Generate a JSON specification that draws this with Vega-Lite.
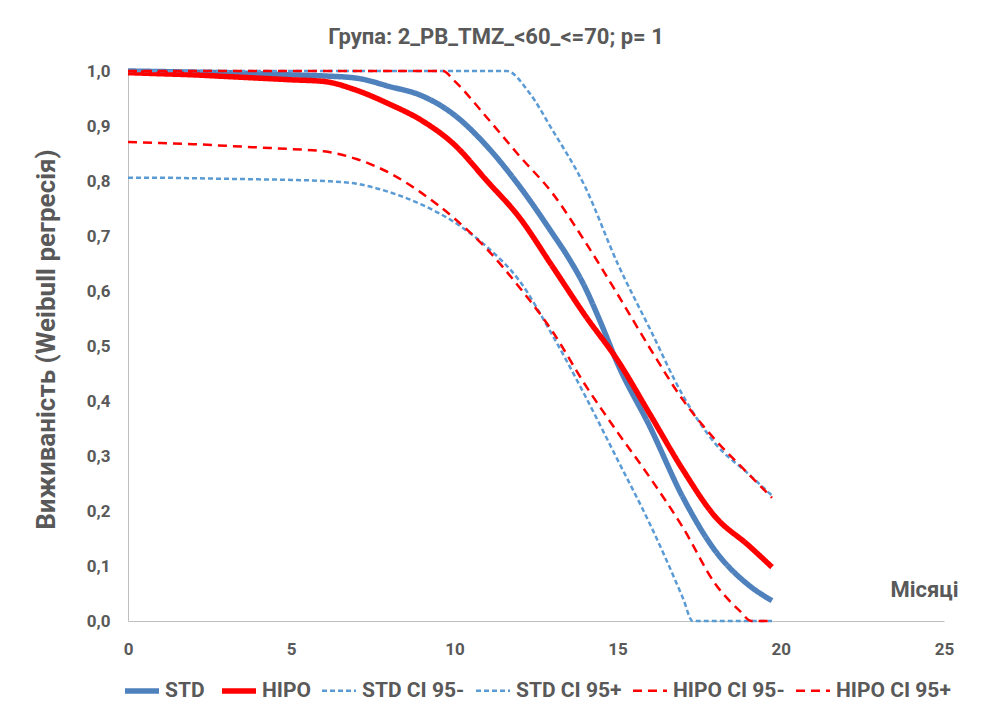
{
  "$schema": "https://vega.github.io/schema/vega-lite/v6.json",
  "autosize": "none",
  "padding": {"left": 128, "top": 71, "right": 51, "bottom": 97},
  "width": 816,
  "height": 550,
  "background": "white",
  "config": {
    "view": {"stroke": null},
    "font": "Roboto, sans-serif"
  },
  "title": {
    "text": "Група: 2_PB_TMZ_<60_<=70; p= 1",
    "fontSize": 22,
    "fontWeight": "bold",
    "color": "#595959",
    "anchor": "middle",
    "dx": -40,
    "offset": 11
  },
  "data": {
    "values": [
      {"series": "STD", "month": 0, "value": 1.0},
      {"series": "STD", "month": 1, "value": 0.999},
      {"series": "STD", "month": 2, "value": 0.998},
      {"series": "STD", "month": 3, "value": 0.997},
      {"series": "STD", "month": 4, "value": 0.995},
      {"series": "STD", "month": 5, "value": 0.993},
      {"series": "STD", "month": 6, "value": 0.991},
      {"series": "STD", "month": 7, "value": 0.987},
      {"series": "STD", "month": 8, "value": 0.972},
      {"series": "STD", "month": 9, "value": 0.955},
      {"series": "STD", "month": 10, "value": 0.92},
      {"series": "STD", "month": 11, "value": 0.863},
      {"series": "STD", "month": 12, "value": 0.79},
      {"series": "STD", "month": 13, "value": 0.705},
      {"series": "STD", "month": 13.5, "value": 0.66},
      {"series": "STD", "month": 14, "value": 0.607},
      {"series": "STD", "month": 14.5, "value": 0.54},
      {"series": "STD", "month": 15, "value": 0.468},
      {"series": "STD", "month": 16, "value": 0.352},
      {"series": "STD", "month": 17, "value": 0.225},
      {"series": "STD", "month": 18, "value": 0.127},
      {"series": "STD", "month": 19, "value": 0.066},
      {"series": "STD", "month": 19.73, "value": 0.037},

      {"series": "HIPO", "month": 0, "value": 0.997},
      {"series": "HIPO", "month": 1, "value": 0.995},
      {"series": "HIPO", "month": 2, "value": 0.993},
      {"series": "HIPO", "month": 3, "value": 0.99},
      {"series": "HIPO", "month": 4, "value": 0.987},
      {"series": "HIPO", "month": 5, "value": 0.984},
      {"series": "HIPO", "month": 6, "value": 0.981},
      {"series": "HIPO", "month": 7, "value": 0.965},
      {"series": "HIPO", "month": 8, "value": 0.94},
      {"series": "HIPO", "month": 9, "value": 0.91},
      {"series": "HIPO", "month": 10, "value": 0.866},
      {"series": "HIPO", "month": 11, "value": 0.80},
      {"series": "HIPO", "month": 12, "value": 0.733},
      {"series": "HIPO", "month": 13, "value": 0.645},
      {"series": "HIPO", "month": 14, "value": 0.556},
      {"series": "HIPO", "month": 15, "value": 0.474},
      {"series": "HIPO", "month": 16, "value": 0.375},
      {"series": "HIPO", "month": 17, "value": 0.275},
      {"series": "HIPO", "month": 18, "value": 0.189},
      {"series": "HIPO", "month": 19, "value": 0.138},
      {"series": "HIPO", "month": 19.73, "value": 0.098},

      {"series": "STD CI 95-", "month": 0, "value": 0.806},
      {"series": "STD CI 95-", "month": 1, "value": 0.806},
      {"series": "STD CI 95-", "month": 2, "value": 0.805},
      {"series": "STD CI 95-", "month": 3, "value": 0.804},
      {"series": "STD CI 95-", "month": 4, "value": 0.803},
      {"series": "STD CI 95-", "month": 5, "value": 0.802},
      {"series": "STD CI 95-", "month": 6, "value": 0.80},
      {"series": "STD CI 95-", "month": 7, "value": 0.795},
      {"series": "STD CI 95-", "month": 8, "value": 0.78},
      {"series": "STD CI 95-", "month": 9, "value": 0.757},
      {"series": "STD CI 95-", "month": 10, "value": 0.725},
      {"series": "STD CI 95-", "month": 11, "value": 0.68},
      {"series": "STD CI 95-", "month": 12, "value": 0.618},
      {"series": "STD CI 95-", "month": 13, "value": 0.52},
      {"series": "STD CI 95-", "month": 14, "value": 0.41},
      {"series": "STD CI 95-", "month": 15, "value": 0.293},
      {"series": "STD CI 95-", "month": 16, "value": 0.175},
      {"series": "STD CI 95-", "month": 17, "value": 0.042},
      {"series": "STD CI 95-", "month": 17.3, "value": 0.0},
      {"series": "STD CI 95-", "month": 18, "value": 0.0},
      {"series": "STD CI 95-", "month": 19, "value": 0.0},
      {"series": "STD CI 95-", "month": 19.73, "value": 0.0},

      {"series": "STD CI 95+", "month": 0, "value": 1.0},
      {"series": "STD CI 95+", "month": 2, "value": 1.0},
      {"series": "STD CI 95+", "month": 4, "value": 1.0},
      {"series": "STD CI 95+", "month": 6, "value": 1.0},
      {"series": "STD CI 95+", "month": 8, "value": 1.0},
      {"series": "STD CI 95+", "month": 10, "value": 1.0},
      {"series": "STD CI 95+", "month": 11.6, "value": 1.0},
      {"series": "STD CI 95+", "month": 12.3, "value": 0.96},
      {"series": "STD CI 95+", "month": 13, "value": 0.893},
      {"series": "STD CI 95+", "month": 14, "value": 0.79},
      {"series": "STD CI 95+", "month": 15, "value": 0.65},
      {"series": "STD CI 95+", "month": 16, "value": 0.53},
      {"series": "STD CI 95+", "month": 17, "value": 0.41},
      {"series": "STD CI 95+", "month": 18, "value": 0.322},
      {"series": "STD CI 95+", "month": 19, "value": 0.268},
      {"series": "STD CI 95+", "month": 19.73, "value": 0.228},

      {"series": "HIPO CI 95-", "month": 0, "value": 0.871},
      {"series": "HIPO CI 95-", "month": 1, "value": 0.869},
      {"series": "HIPO CI 95-", "month": 2, "value": 0.867},
      {"series": "HIPO CI 95-", "month": 3, "value": 0.864},
      {"series": "HIPO CI 95-", "month": 4, "value": 0.861},
      {"series": "HIPO CI 95-", "month": 5, "value": 0.858},
      {"series": "HIPO CI 95-", "month": 6, "value": 0.854},
      {"series": "HIPO CI 95-", "month": 7, "value": 0.84},
      {"series": "HIPO CI 95-", "month": 8, "value": 0.815},
      {"series": "HIPO CI 95-", "month": 9, "value": 0.778},
      {"series": "HIPO CI 95-", "month": 10, "value": 0.732},
      {"series": "HIPO CI 95-", "month": 11, "value": 0.676},
      {"series": "HIPO CI 95-", "month": 12, "value": 0.606},
      {"series": "HIPO CI 95-", "month": 13, "value": 0.527},
      {"series": "HIPO CI 95-", "month": 14, "value": 0.43},
      {"series": "HIPO CI 95-", "month": 15, "value": 0.343},
      {"series": "HIPO CI 95-", "month": 16, "value": 0.26},
      {"series": "HIPO CI 95-", "month": 17, "value": 0.17},
      {"series": "HIPO CI 95-", "month": 18, "value": 0.067},
      {"series": "HIPO CI 95-", "month": 18.75, "value": 0.018},
      {"series": "HIPO CI 95-", "month": 19.1, "value": 0.0},
      {"series": "HIPO CI 95-", "month": 19.73, "value": 0.0},

      {"series": "HIPO CI 95+", "month": 0, "value": 1.0},
      {"series": "HIPO CI 95+", "month": 2, "value": 1.0},
      {"series": "HIPO CI 95+", "month": 4, "value": 1.0},
      {"series": "HIPO CI 95+", "month": 6, "value": 1.0},
      {"series": "HIPO CI 95+", "month": 8, "value": 1.0},
      {"series": "HIPO CI 95+", "month": 9.65, "value": 1.0},
      {"series": "HIPO CI 95+", "month": 10, "value": 0.982},
      {"series": "HIPO CI 95+", "month": 11, "value": 0.915},
      {"series": "HIPO CI 95+", "month": 12, "value": 0.845},
      {"series": "HIPO CI 95+", "month": 13, "value": 0.778},
      {"series": "HIPO CI 95+", "month": 14, "value": 0.69},
      {"series": "HIPO CI 95+", "month": 15, "value": 0.594},
      {"series": "HIPO CI 95+", "month": 16, "value": 0.495},
      {"series": "HIPO CI 95+", "month": 17, "value": 0.402},
      {"series": "HIPO CI 95+", "month": 18, "value": 0.329},
      {"series": "HIPO CI 95+", "month": 19, "value": 0.268},
      {"series": "HIPO CI 95+", "month": 19.73, "value": 0.224}
    ]
  },
  "mark": {"type": "line", "interpolate": "monotone", "strokeCap": "butt", "clip": false},
  "encoding": {
    "x": {
      "field": "month",
      "type": "quantitative",
      "scale": {"domain": [0, 25], "nice": false, "zero": false},
      "axis": {
        "values": [0, 5, 10, 15, 20, 25],
        "grid": false,
        "ticks": false,
        "domainColor": "#BFBFBF",
        "domainWidth": 1,
        "labelFontSize": 17,
        "labelFontWeight": "bold",
        "labelColor": "#595959",
        "labelPadding": 20,
        "labelFlush": false,
        "title": "Місяці",
        "titleFontSize": 22,
        "titleFontWeight": "bold",
        "titleColor": "#595959",
        "titleAnchor": "end",
        "titleAlign": "right",
        "titleX": 830,
        "titleY": -20,
        "titleBaseline": "bottom"
      }
    },
    "y": {
      "field": "value",
      "type": "quantitative",
      "scale": {"domain": [0, 1], "nice": false},
      "axis": {
        "values": [0, 0.1, 0.2, 0.3, 0.4, 0.5, 0.6, 0.7, 0.8, 0.9, 1.0],
        "labelExpr": "replace(format(datum.value, '.1f'), '.', ',')",
        "grid": false,
        "ticks": false,
        "domainColor": "#BFBFBF",
        "domainWidth": 1,
        "labelFontSize": 17,
        "labelFontWeight": "bold",
        "labelColor": "#595959",
        "labelPadding": 18,
        "title": "Виживаність (Weibull регресія)",
        "titleFontSize": 26,
        "titleFontWeight": "bold",
        "titleColor": "#595959",
        "titleAngle": -90,
        "titleX": -82,
        "titleY": 268,
        "titleAlign": "center",
        "titleBaseline": "middle"
      }
    },
    "color": {
      "field": "series",
      "type": "nominal",
      "scale": {
        "domain": ["STD", "HIPO", "STD CI 95-", "STD CI 95+", "HIPO CI 95-", "HIPO CI 95+"],
        "range": ["#4F81BD", "#FF0000", "#5B9BD5", "#5B9BD5", "#FF0000", "#FF0000"]
      },
      "legend": {
        "orient": "none",
        "direction": "horizontal",
        "columns": 6,
        "legendX": -6,
        "legendY": 600,
        "title": null,
        "symbolType": "stroke",
        "symbolSize": 1156,
        "labelFontSize": 21,
        "labelFontWeight": "bold",
        "labelColor": "#595959",
        "labelOffset": 3,
        "columnPadding": 6
      }
    },
    "strokeDash": {
      "field": "series",
      "type": "nominal",
      "scale": {
        "domain": ["STD", "HIPO", "STD CI 95-", "STD CI 95+", "HIPO CI 95-", "HIPO CI 95+"],
        "range": [[1, 0], [1, 0], [5, 3], [5, 3], [9, 6], [9, 6]]
      },
      "legend": null
    },
    "strokeWidth": {
      "field": "series",
      "type": "nominal",
      "scale": {
        "type": "ordinal",
        "domain": ["STD", "HIPO", "STD CI 95-", "STD CI 95+", "HIPO CI 95-", "HIPO CI 95+"],
        "range": [5.5, 5.5, 2.5, 2.5, 2.5, 2.5]
      },
      "legend": null
    },
    "order": {"field": "month", "type": "quantitative"}
  }
}
